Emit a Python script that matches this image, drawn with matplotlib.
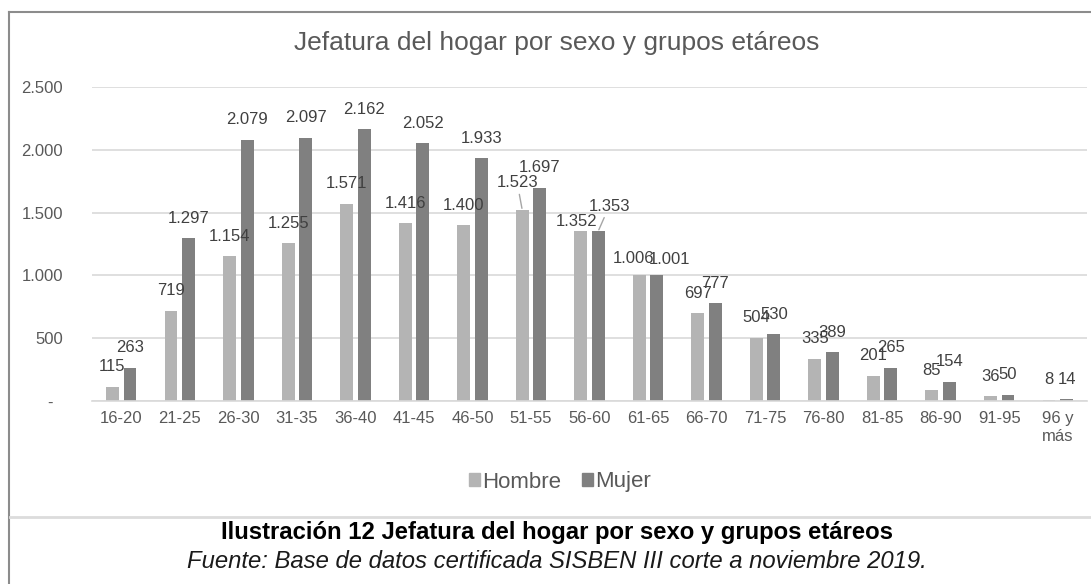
import numpy as np
import matplotlib.pyplot as plt
from matplotlib.lines import Line2D
from matplotlib.patches import Patch
from matplotlib.ticker import FuncFormatter

plt.rcParams['font.family'] = ['Liberation Sans', 'DejaVu Sans']

#%% DATA

grupos = ['16-20', '21-25', '26-30', '31-35', '36-40', '41-45', '46-50', '51-55',
          '56-60', '61-65', '66-70', '71-75', '76-80', '81-85', '86-90', '91-95',
          '96 y\nmás']
hombre = [115, 719, 1154, 1255, 1571, 1416, 1400, 1523, 1352, 1006, 697, 504,
          335, 201, 85, 36, 8]
mujer = [263, 1297, 2079, 2097, 2162, 2052, 1933, 1697, 1353, 1001, 777, 530,
         389, 265, 154, 50, 14]

titulo = 'Jefatura del hogar por sexo y grupos etáreos'
caption = 'Ilustración 12 Jefatura del hogar por sexo y grupos etáreos'
fuente = 'Fuente: Base de datos certificada SISBEN III corte a noviembre 2019.'

# label nudges (px): (serie, index) -> (dx, dy above bar top, leader line)
nudges = {
    ('H', 7): (-5, 27, True),
    ('M', 8): (11, 25, True),
    ('H', 8): (-4, 10, False),
    ('H', 9): (-6, 16, False),
    ('M', 9): (13, 16, False),
}

#%% PLOT

W, H = 1091, 584
fig = plt.figure(figsize=(W / 100, H / 100), dpi=100)
ax = fig.add_axes([92 / W, 1 - 401 / H, 995 / W, 314 / H])

c_h, c_m = '#b4b4b4', '#808080'
x = np.arange(len(grupos))
bw, off = 0.22, 0.15
ax.bar(x - off, hombre, bw, color=c_h, zorder=2)
ax.bar(x + off, mujer, bw, color=c_m, zorder=2)

ax.set_xlim(-0.5, len(grupos) - 0.5)
ax.set_ylim(0, 2500)
ax.set_yticks(range(0, 2501, 500))
ax.yaxis.set_major_formatter(FuncFormatter(
    lambda v, p: '-  ' if v == 0 else f'{int(v):,}'.replace(',', '.')))
ax.set_xticks(x)
ax.set_xticklabels(grupos, linespacing=1.3)
ax.tick_params(axis='y', length=0, pad=21, labelsize=12, labelcolor='#595959')
ax.tick_params(axis='x', length=0, pad=7, labelsize=12, labelcolor='#595959')
ax.grid(axis='y', color='#d9d9d9', lw=1.2, zorder=0)
for s in ['top', 'right', 'left']:
    ax.spines[s].set_visible(False)
ax.spines['bottom'].set_color('#d9d9d9')
ax.spines['bottom'].set_linewidth(1.2)

# data labels
for key, vals, sign in [('H', hombre, -1), ('M', mujer, 1)]:
    for i, v in enumerate(vals):
        dx, dy, leader = nudges.get((key, i), (0, 20, False))
        kw = {}
        if leader:
            kw['arrowprops'] = dict(arrowstyle='-', color='#a6a6a6', lw=1,
                                    shrinkA=1, shrinkB=1)
        ax.annotate(f'{v:,}'.replace(',', '.'), xy=(x[i] + sign * off, v),
                    xytext=(dx * 0.72, dy * 0.72), textcoords='offset points',
                    ha='center', va='center', fontsize=12, color='#404040',
                    zorder=3, **kw)

# title, legend
fig.text(557 / W, 1 - 43 / H, titulo, ha='center', va='center',
         fontsize=19, color='#595959')
handles = [Patch(color=c_h, label='Hombre'), Patch(color=c_m, label='Mujer')]
fig.legend(handles=handles, loc='center', bbox_to_anchor=(560 / W, 1 - 482 / H),
           ncol=2, frameon=False, fontsize=16, handlelength=0.5,
           handleheight=0.5, handletextpad=0.1, columnspacing=0.9,
           labelcolor='#595959')

# frame and caption
fig.add_artist(Line2D([9 / W, 9 / W], [0, 1 - 12 / H], color='#8c8c8c', lw=1.5))
fig.add_artist(Line2D([9 / W, 1], [1 - 12 / H, 1 - 12 / H], color='#8c8c8c', lw=1.5))
fig.add_artist(Line2D([10 / W, 1], [1 - 517 / H, 1 - 517 / H], color='#dcdcdc', lw=2))
fig.text(557 / W, 1 - 533 / H, caption, ha='center', va='center',
         fontsize=17.2, fontweight='bold', color='black')
fig.text(557 / W, 1 - 561 / H, fuente, ha='center', va='center',
         fontsize=17.2, style='italic', color='#1a1a1a')

fig.savefig('out.png', dpi=100)
